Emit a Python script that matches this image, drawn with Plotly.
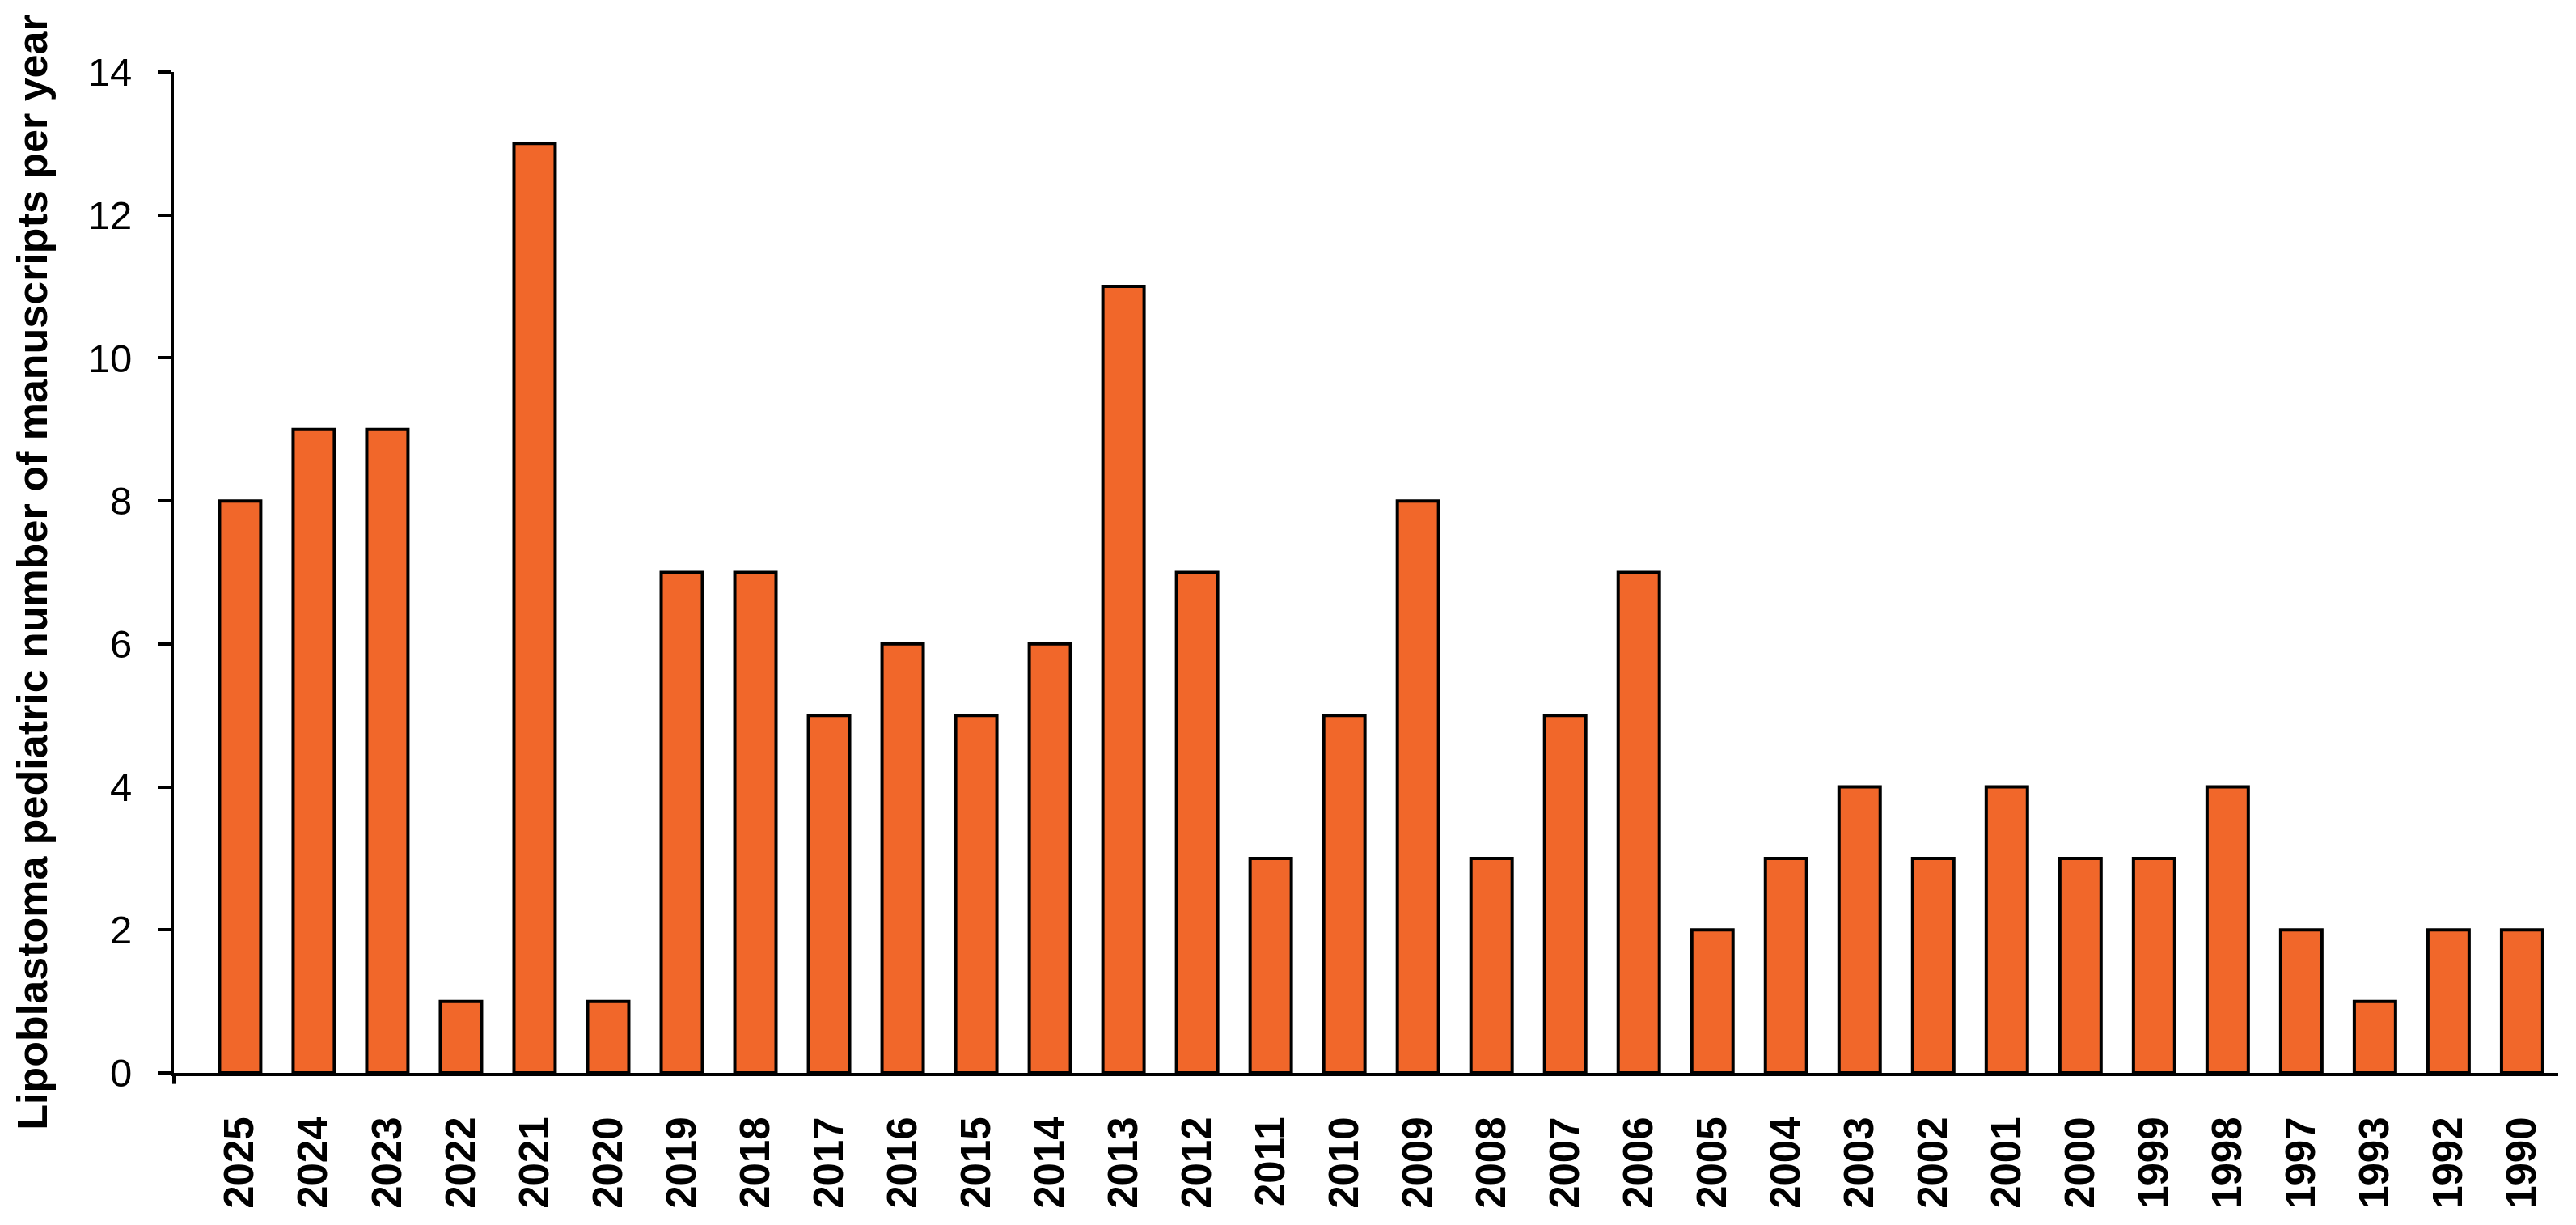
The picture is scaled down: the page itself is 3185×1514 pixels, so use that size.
import plotly.graph_objects as go

years = ["2025", "2024", "2023", "2022", "2021", "2020", "2019", "2018", "2017", "2016",
         "2015", "2014", "2013", "2012", "2011", "2010", "2009", "2008", "2007", "2006",
         "2005", "2004", "2003", "2002", "2001", "2000", "1999", "1998", "1997", "1993",
         "1992", "1990"]
manuscripts = [8, 9, 9, 1, 13, 1, 7, 7, 5, 6,
               5, 6, 11, 7, 3, 5, 8, 3, 5, 7,
               2, 3, 4, 3, 4, 3, 3, 4, 2, 1,
               2, 2]
y_ticks = [0, 2, 4, 6, 8, 10, 12, 14]
y_title = "Lipoblastoma pediatric number of manuscripts per year"

fig = go.Figure()
fig.add_trace(go.Bar(
    x=years,
    y=manuscripts,
    marker=dict(color="#F1672A", line=dict(color="#000000", width=4)),
    hoverinfo="x+y",
))

fig.update_layout(
    width=3177,
    height=1498,
    margin=dict(l=207, r=22, t=81, b=171, pad=0),
    paper_bgcolor="white",
    plot_bgcolor="white",
    bargap=0.44,
    showlegend=False,
    font=dict(family="Liberation Sans, Arial, sans-serif", color="black"),
)

fig.update_xaxes(
    type="category",
    range=[-0.9, len(years) - 0.51],
    showline=True,
    linecolor="black",
    linewidth=4,
    ticks="",
    tickangle=-90,
    ticklabelstandoff=30,
    tickfont=dict(family="Liberation Sans, Arial, sans-serif", size=51, color="black",
                  weight="bold"),
    showgrid=False,
    zeroline=False,
)

fig.update_yaxes(
    range=[0, 14],
    tickvals=y_ticks,
    ticktext=[str(v) for v in y_ticks],
    showline=True,
    linecolor="black",
    linewidth=4,
    ticks="outside",
    ticklen=16,
    tickwidth=4,
    tickcolor="black",
    ticklabelstandoff=22,
    tickfont=dict(family="Liberation Sans, Arial, sans-serif", size=49, color="black"),
    showgrid=False,
    zeroline=False,
    title=dict(text=y_title, standoff=34,
               font=dict(family="Liberation Sans, Arial, sans-serif", size=52,
                         color="black", weight="bold")),
)

# small downward extension of the vertical axis below the baseline
fig.add_shape(type="line", xref="paper", yref="paper", x0=0, x1=0, y0=0, y1=-0.011,
              line=dict(color="black", width=4))

fig.write_html("out.html")
